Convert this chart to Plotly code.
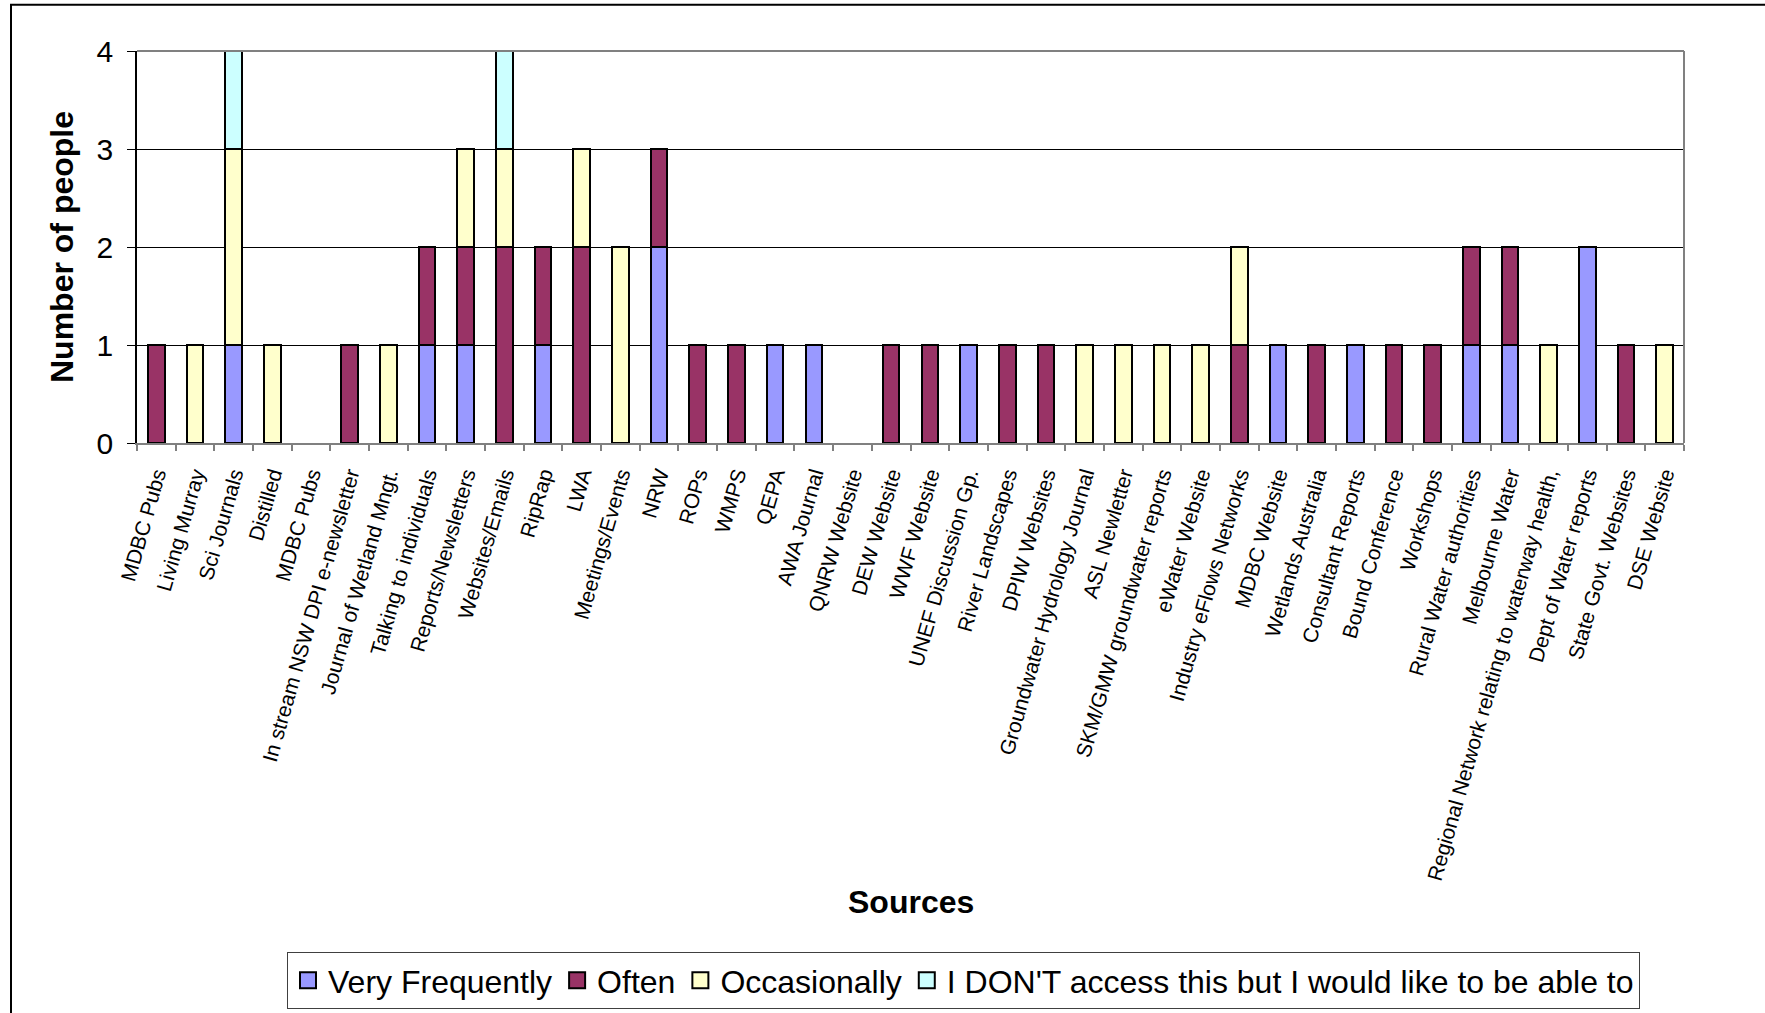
import plotly.graph_objects as go

# Information sources named by survey respondents
sources = [
    "MDBC Pubs", "Living Murray", "Sci Journals", "Distilled", "MDBC Pubs",
    "In stream NSW DPI e-newsletter", "Journal of Wetland Mngt.", "Talking to individuals",
    "Reports/Newsletters", "Websites/Emails", "RipRap", "LWA", "Meetings/Events", "NRW",
    "ROPs", "WMPS", "QEPA", "AWA Journal", "QNRW Website", "DEW Website", "WWF Website",
    "UNEF Discussion Gp.", "River Landscapes", "DPIW Websites",
    "Groundwater Hydrology Journal", "ASL Newletter", "SKM/GMW groundwater reports",
    "eWater Website", "Industry eFlows Networks", "MDBC Website", "Wetlands Australia",
    "Consultant Reports", "Bound Conference", "Workshops", "Rural Water authorities",
    "Melbourne Water", "Regional Network relating to waterway health,",
    "Dept of Water reports", "State Govt. Websites", "DSE Website",
]

# Number of people per access frequency
very_frequently = [0, 0, 1, 0, 0, 0, 0, 1, 1, 0, 1, 0, 0, 2, 0, 0, 1, 1, 0, 0,
                   0, 1, 0, 0, 0, 0, 0, 0, 0, 1, 0, 1, 0, 0, 1, 1, 0, 2, 0, 0]
often = [1, 0, 0, 0, 0, 1, 0, 1, 1, 2, 1, 2, 0, 1, 1, 1, 0, 0, 0, 1,
         1, 0, 1, 1, 0, 0, 0, 0, 1, 0, 1, 0, 1, 1, 1, 1, 0, 0, 1, 0]
occasionally = [0, 1, 2, 1, 0, 0, 1, 0, 1, 1, 0, 1, 2, 0, 0, 0, 0, 0, 0, 0,
                0, 0, 0, 0, 1, 1, 1, 1, 1, 0, 0, 0, 0, 0, 0, 0, 1, 0, 0, 1]
would_like = [0, 0, 1, 0, 0, 0, 0, 0, 0, 1, 0, 0, 0, 0, 0, 0, 0, 0, 0, 0,
              0, 0, 0, 0, 0, 0, 0, 0, 0, 0, 0, 0, 0, 0, 0, 0, 0, 0, 0, 0]

series = [
    ("Very Frequently", very_frequently, "#9999FF"),
    ("Often", often, "#993366"),
    ("Occasionally", occasionally, "#FFFFCC"),
    ("I DON'T access this but I would like to be able to", would_like, "#CCFFFF"),
]

FONT = "Liberation Sans, Arial, sans-serif"
positions = list(range(len(sources)))

fig = go.Figure()
for name, values, color in series:
    fig.add_trace(go.Bar(
        name=name,
        x=positions,
        y=[v if v else None for v in values],
        marker=dict(color=color, line=dict(color="black", width=2)),
        showlegend=False,
    ))

# legend keys: square swatches in the series colours
for name, values, color in series:
    fig.add_trace(go.Scatter(
        name=name, x=[None], y=[None], mode="markers",
        marker=dict(symbol="square", size=16, color=color,
                    line=dict(color="black", width=2)),
        showlegend=True, hoverinfo="skip",
    ))

W, H = 1765, 1013
L, R, T, B = 137, 81, 51, 570
pw, ph = W - L - R, H - T - B


def px_x(x):
    return (x - L) / pw


def px_y(y):
    return (H - B - y) / ph


fig.update_layout(
    width=W, height=H,
    margin=dict(l=L, r=R, t=T, b=B, autoexpand=False),
    barmode="stack",
    bargap=0.57,
    plot_bgcolor="white",
    paper_bgcolor="white",
    font=dict(family=FONT, color="black"),
    showlegend=True,
    legend=dict(
        orientation="h",
        x=px_x(287), xanchor="left",
        y=px_y(980.5), yanchor="middle",
        bordercolor="#404040", borderwidth=1,
        font=dict(size=32, family=FONT),
        traceorder="normal",
        itemsizing="trace",
        itemclick=False,
    ),
    xaxis=dict(
        range=[-0.5, len(sources) - 0.5],
        tickmode="array",
        tickvals=positions,
        ticktext=sources,
        tickangle=-74,
        tickfont=dict(size=21, family=FONT),
        ticks="outside", ticklen=6, tickcolor="rgba(0,0,0,0)",
        ticklabelstandoff=3,
        minor=dict(tickmode="linear", tick0=-0.5, dtick=1, ticks="outside",
                   ticklen=6, tickwidth=1.5, tickcolor="#808080", showgrid=False),
        showgrid=False, zeroline=False,
        showline=True, linecolor="#808080", linewidth=2,
        fixedrange=True,
    ),
    yaxis=dict(
        range=[0, 4],
        tickmode="array", tickvals=[0, 1, 2, 3, 4],
        tickfont=dict(size=30, family=FONT),
        ticks="outside", ticklen=8, tickcolor="black", tickwidth=1,
        ticklabelstandoff=8,
        showgrid=True, gridcolor="black", gridwidth=1,
        zeroline=False,
        showline=True, linecolor="black", linewidth=1.5,
        fixedrange=True,
    ),
    shapes=[
        # plot area frame (top and right)
        dict(type="line", xref="paper", yref="paper", x0=0, x1=1, y0=1, y1=1,
             line=dict(color="#808080", width=2)),
        dict(type="line", xref="paper", yref="paper", x0=1, x1=1, y0=0, y1=1,
             line=dict(color="#808080", width=2)),
        # chart outer border
        dict(type="rect", xref="paper", yref="paper",
             x0=px_x(11), x1=px_x(1900), y0=px_y(1100), y1=px_y(4.7),
             line=dict(color="black", width=2), fillcolor="rgba(0,0,0,0)"),
    ],
    annotations=[
        dict(text="<b>Number of people</b>", textangle=-90,
             xref="paper", yref="paper", x=px_x(62), y=0.5,
             xanchor="center", yanchor="middle", showarrow=False,
             font=dict(size=32, family=FONT)),
        dict(text="<b>Sources</b>",
             xref="paper", yref="paper", x=0.5, y=px_y(902),
             xanchor="center", yanchor="middle", showarrow=False,
             font=dict(size=32, family=FONT)),
    ],
)

fig.write_html("out.html")
